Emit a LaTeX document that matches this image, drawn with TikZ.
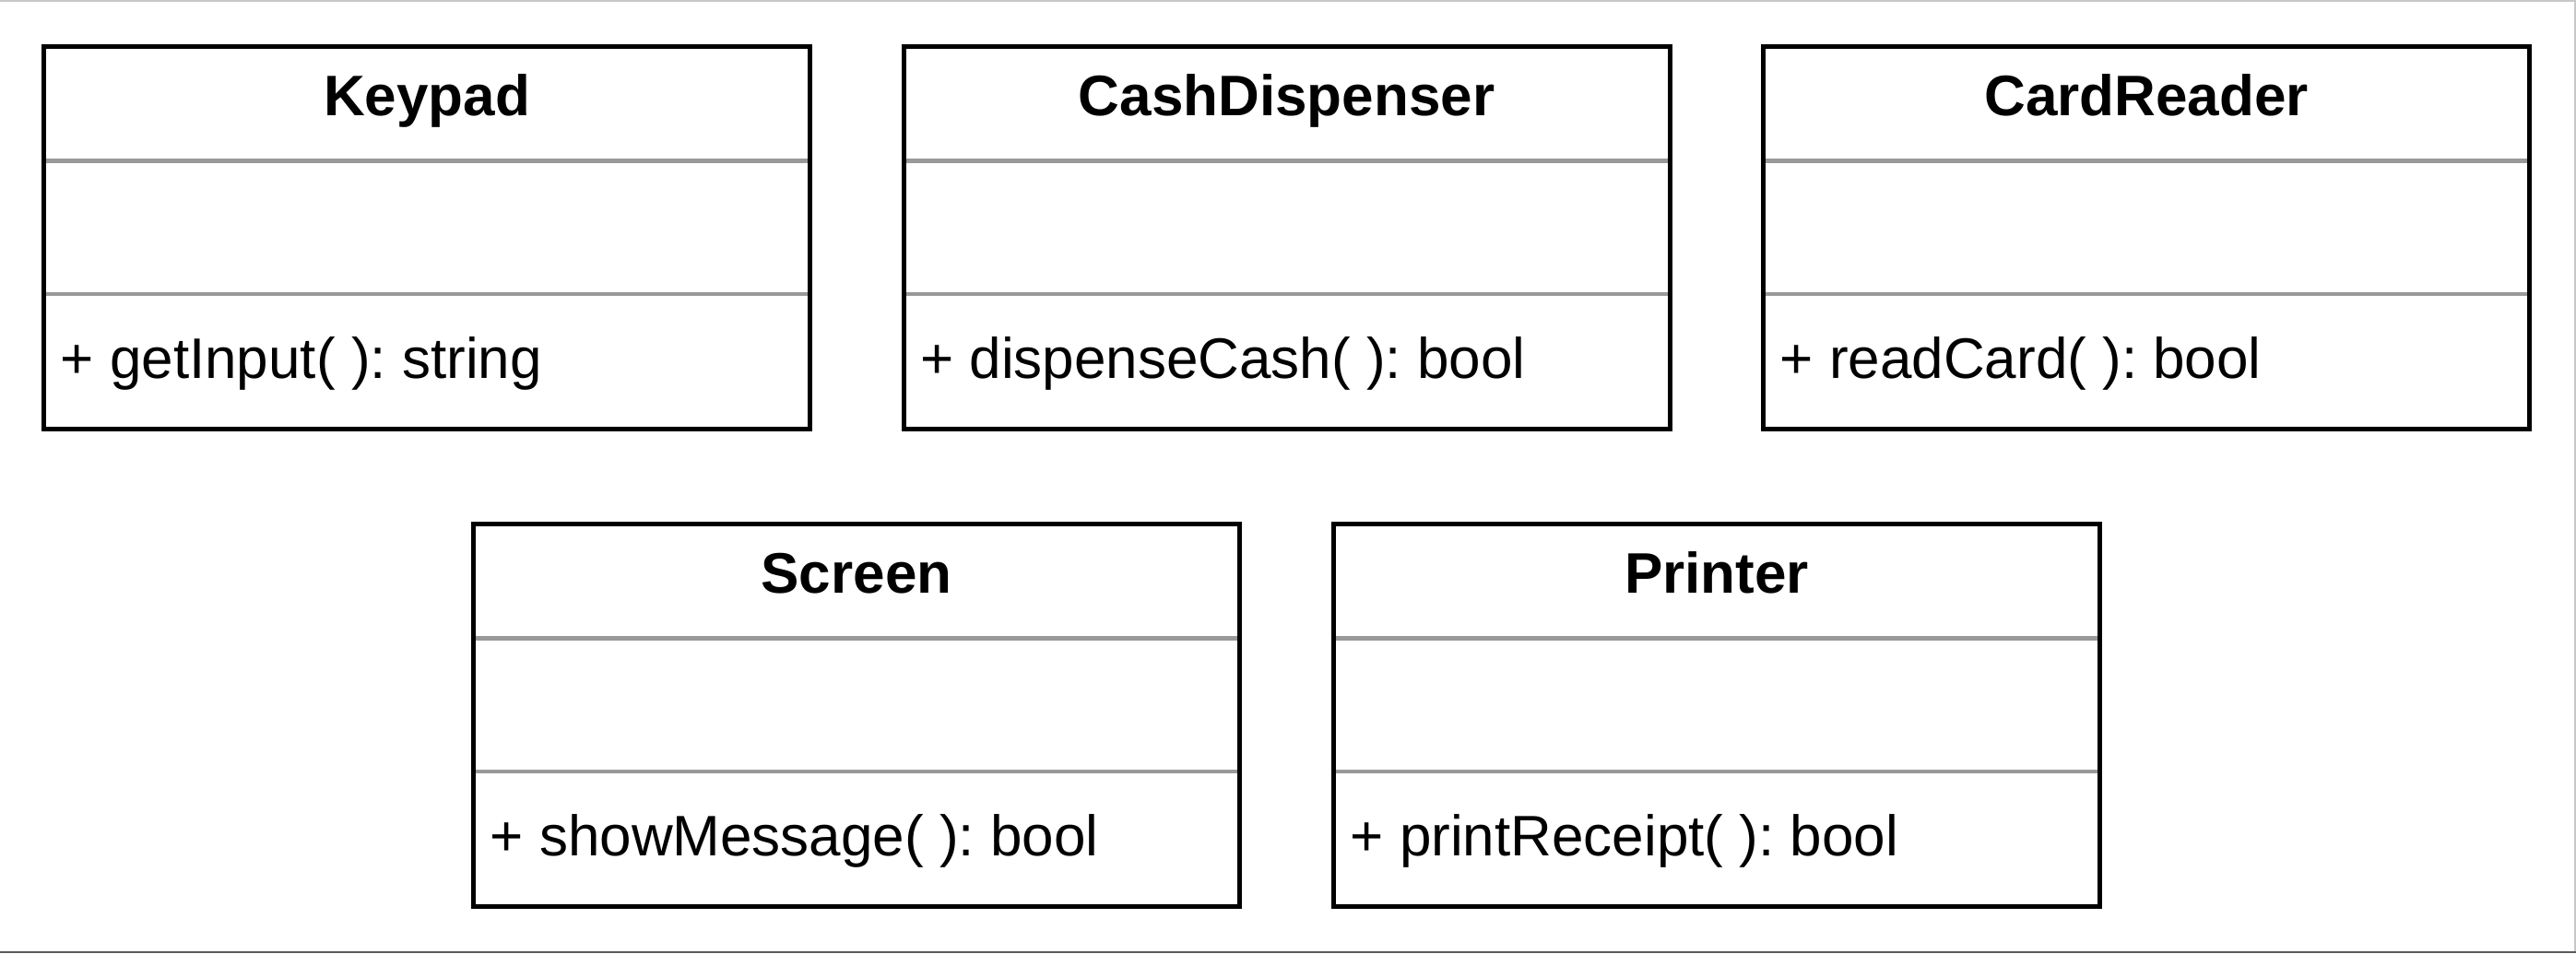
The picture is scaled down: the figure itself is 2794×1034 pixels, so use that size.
\documentclass[tikz,border=0pt]{standalone}
\usepackage{fontspec}
\setmainfont{Liberation Sans}
\frenchspacing
\definecolor{sepgray}{HTML}{999999}
\definecolor{frametop}{HTML}{C8C8C8}
\definecolor{framebot}{HTML}{5A5A5A}
\tikzset{
  classbox/.style={draw=black, line width=5pt, minimum width=831pt, minimum height=415pt, anchor=north west, inner sep=0pt, outer sep=0pt},
  sepline/.style={draw=sepgray, line width=4.5pt},
  classtitle/.style={anchor=base, inner sep=0pt, font=\fontsize{62}{74}\selectfont\bfseries},
  methodtext/.style={anchor=base west, inner sep=0pt, font=\fontsize{62}{74}\selectfont},
}
\newcommand{\umlclass}[5]{%
  \node[classbox] (#1) at (#2,#3) {};
  \draw[sepline] ([xshift=2.5pt,yshift=-124pt]#1.north west) -- ([xshift=-2.5pt,yshift=-124pt]#1.north east);
  \draw[sepline] ([xshift=2.5pt,yshift=-268.5pt]#1.north west) -- ([xshift=-2.5pt,yshift=-268.5pt]#1.north east);
  \node[classtitle] (#1-title) at ([yshift=-75pt]#1.north) {#4};
  \node[methodtext] (#1-op) at ([xshift=18pt,yshift=-360pt]#1.north west) {#5};
}
\begin{document}
\begin{tikzpicture}[x=1pt,y=-1pt]
\useasboundingbox (0,0) rectangle (2794,1034);
\fill[white] (0,0) rectangle (2794,1034);
\draw[frametop, line width=2pt] (0,1) -- (2793,1) -- (2793,1034);
\draw[framebot, line width=2pt] (0,1033) -- (2794,1033);
\umlclass{keypad}{47.5}{50.5}{Keypad}{+ getInput( ): string}
\umlclass{cash}{980}{50.5}{CashDispenser}{+ dispenseCash( ): bool}
\umlclass{card}{1912.5}{50.5}{CardReader}{+ readCard( ): bool}
\umlclass{screen}{513.5}{568.5}{Screen}{+ showMessage( ): bool}
\umlclass{printer}{1446.5}{568.5}{Printer}{+ printReceipt( ): bool}
\end{tikzpicture}
\end{document}
